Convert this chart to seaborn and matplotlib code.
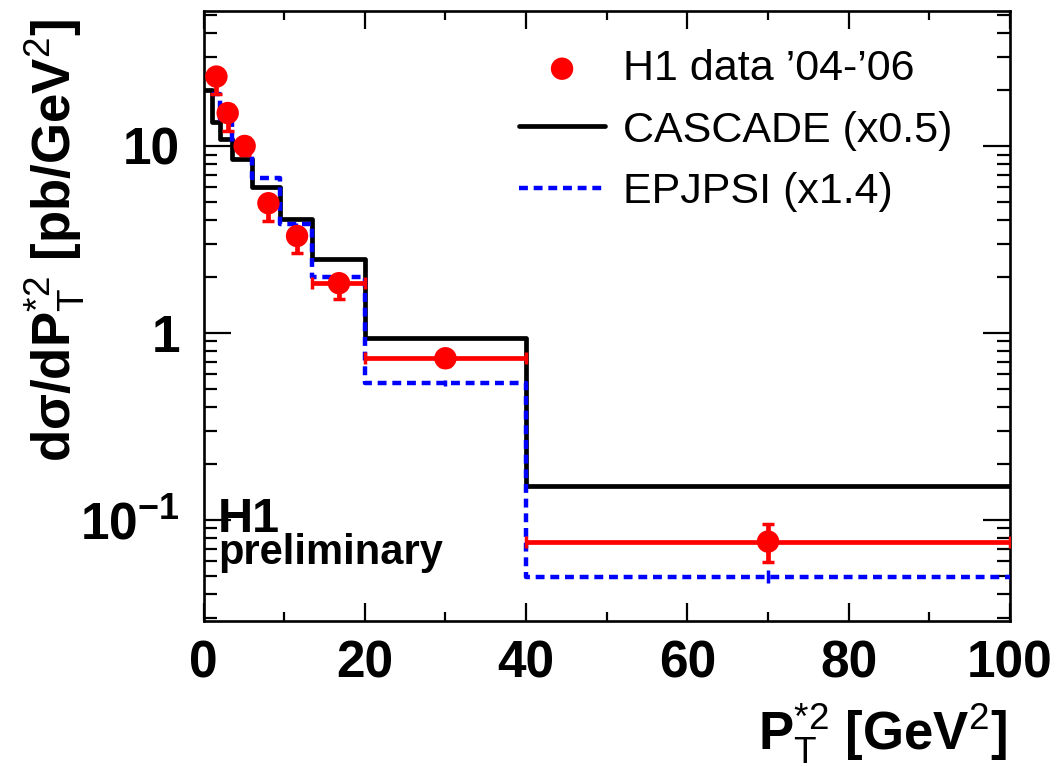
import numpy as np
import pandas as pd
import matplotlib
matplotlib.use("Agg")
import matplotlib.pyplot as plt
import seaborn as sns
from matplotlib.ticker import FixedLocator, FixedFormatter, MultipleLocator, NullFormatter

# ---------------- data ----------------
cascade_edges = [0, 1, 2, 3.5, 6, 9.5, 13.5, 20, 40, 100]
cascade_vals = [19.9, 13.5, 10.9, 8.5, 6.06, 4.07, 2.50, 0.944, 0.151]

epjpsi_edges = [1, 2, 3.5, 6, 9.5, 13.5, 20, 40, 100]
epjpsi_vals = [19.0, 14.0, 10.5, 6.77, 3.83, 1.99, 0.542, 0.0498]
epjpsi_centers = [1.5, 2.75, 4.75, 7.75, 11.5, 16.75, 30, 70]
epjpsi_err = [0.3, 0.2, 0.15, 0.1, 0.06, 0.03, 0.02, 0.004]

data_x = [1.6, 3.0, 5.1, 8.05, 11.6, 16.8, 30, 70]
data_y = [23.5, 15.0, 10.0, 4.94, 3.30, 1.845, 0.732, 0.0766]
data_err_lo = [4.5, 3.0, 1.0, 0.97, 0.61, 0.325, 0.07, 0.017]
data_err_hi = [2.0, 1.5, 1.0, 0.5, 0.3, 0.18, 0.07, 0.019]
data_xerr_lo = [0, 0, 0, 0, 0, 3.3, 10, 30]
data_xerr_hi = [0, 0, 0, 0, 0, 3.2, 10, 30]

y_ticks = [0.1, 1, 10]
y_ticklabels = [r"10$^{\mathbf{-1}}$", "1", "10"]
x_ticks = [0, 20, 40, 60, 80, 100]
x_ticklabels = ["0", "20", "40", "60", "80", "100"]

legend_labels = ["H1 data \u201904-\u201906", "CASCADE (x0.5)", "EPJPSI (x1.4)"]

# ---------------- style ----------------
sns.set_theme(style="ticks")
plt.rcParams["font.family"] = ["Liberation Sans", "DejaVu Sans"]
plt.rcParams["mathtext.fontset"] = "custom"
plt.rcParams["mathtext.rm"] = "Liberation Sans"
plt.rcParams["mathtext.bf"] = "Liberation Sans:bold"
plt.rcParams["mathtext.it"] = "Liberation Sans:italic"
plt.rcParams["mathtext.default"] = "rm"
plt.rcParams["text.color"] = "black"
plt.rcParams["axes.labelcolor"] = "black"
plt.rcParams["xtick.color"] = "black"
plt.rcParams["ytick.color"] = "black"
plt.rcParams["legend.labelcolor"] = "black"

W, H = 1058, 766
fig = plt.figure(figsize=(W / 100, H / 100), dpi=100)
fig.patch.set_facecolor("white")
L, R, T, B = 203.5, 1010, 11, 621
ax = fig.add_axes([L / W, 1 - B / H, (R - L) / W, (B - T) / H])
ax.set_facecolor("white")

# CASCADE histogram (black solid)
df_c = pd.DataFrame({"x": cascade_edges, "y": cascade_vals + [cascade_vals[-1]]})
sns.lineplot(data=df_c, x="x", y="y", drawstyle="steps-post", color="black",
             lw=3.4, estimator=None, sort=False, ax=ax, zorder=3, label=legend_labels[1])

# EPJPSI histogram (blue dashed)
df_e = pd.DataFrame({"x": epjpsi_edges, "y": epjpsi_vals + [epjpsi_vals[-1]]})
sns.lineplot(data=df_e, x="x", y="y", drawstyle="steps-post", color="#0000ff",
             lw=3.2, estimator=None, sort=False, ax=ax, zorder=4, label=legend_labels[2],
             dashes=False)
ax.lines[-1].set_dashes((2.0, 1.3))
ax.errorbar(epjpsi_centers, epjpsi_vals, yerr=epjpsi_err, fmt="none",
            ecolor="#0000ff", elinewidth=2.5, capsize=0, zorder=4)

# H1 data
ax.errorbar(data_x, data_y, yerr=[data_err_lo, data_err_hi],
            xerr=[data_xerr_lo, data_xerr_hi], fmt="none", ecolor="#ff0000",
            elinewidth=3.4, capsize=4.5, capthick=2.5, zorder=5)
df_d = pd.DataFrame({"x": data_x, "y": data_y})
sns.scatterplot(data=df_d, x="x", y="y", color="#ff0000", s=260, edgecolor="none",
                ax=ax, zorder=6, label=legend_labels[0])

# axes
ax.set_yscale("log")
ax.set_xlim(0, 100)
ax.set_ylim(0.0288, 52.7)
ax.set_xlabel("")
ax.set_ylabel("")

ax.xaxis.set_major_locator(FixedLocator(x_ticks))
ax.xaxis.set_major_formatter(FixedFormatter(x_ticklabels))
ax.xaxis.set_minor_locator(MultipleLocator(10))
ax.yaxis.set_major_locator(FixedLocator(y_ticks))
ax.yaxis.set_major_formatter(FixedFormatter(y_ticklabels))
minor_y = [m * 10.0 ** e for e in (-2, -1, 0, 1) for m in range(2, 10)]
ax.yaxis.set_minor_locator(FixedLocator(minor_y))
ax.yaxis.set_minor_formatter(NullFormatter())

for sp in ax.spines.values():
    sp.set_visible(True)
    sp.set_linewidth(1.9)
    sp.set_color("black")

ax.tick_params(axis="both", which="both", direction="in", top=True, right=True,
               colors="black", width=1.6)
ax.tick_params(axis="x", which="major", length=13, pad=13)
ax.tick_params(axis="x", which="minor", length=6.5)
ax.tick_params(axis="y", which="major", length=19.5, pad=17)
ax.tick_params(axis="y", which="minor", length=9.5)
for lab in ax.get_xticklabels() + ax.get_yticklabels():
    lab.set_fontsize(37)
    lab.set_fontweight("bold")

# axis titles
fig.text(87 / W, 1 - 240 / H, "d\u03c3/d" + r"$\mathbf{P}_{T}^{*2}$ [pb/GeV$^{2}$]",
         rotation=90, ha="right", va="center", fontsize=38, fontweight="bold",
         color="black")
fig.text(1007 / W, 1 - 750 / H, r"$\mathbf{P}_{T}^{*2}$ [GeV$^{2}$]",
         ha="right", va="baseline", fontsize=38, fontweight="bold", color="black")

# H1 preliminary
fig.text(218 / W, 1 - 532 / H, "H1", ha="left", va="baseline", fontsize=35,
         fontweight="bold", color="black")
fig.text(218 / W, 1 - 564 / H, "preliminary", ha="left", va="baseline", fontsize=30,
         fontweight="bold", color="black")

# legend
handles, labels = ax.get_legend_handles_labels()
order = [labels.index(l) for l in legend_labels]
leg = ax.legend([handles[i] for i in order], [labels[i] for i in order],
                loc="upper left", bbox_to_anchor=(519 / W, 1 - 49 / H),
                bbox_transform=fig.transFigure, frameon=False, fontsize=31,
                handlelength=2.0, handletextpad=0.42, labelspacing=0.5,
                borderpad=0, borderaxespad=0, markerscale=1.0)
for t in leg.get_texts():
    t.set_color("black")

fig.savefig("out.png", dpi=100, facecolor="white")
